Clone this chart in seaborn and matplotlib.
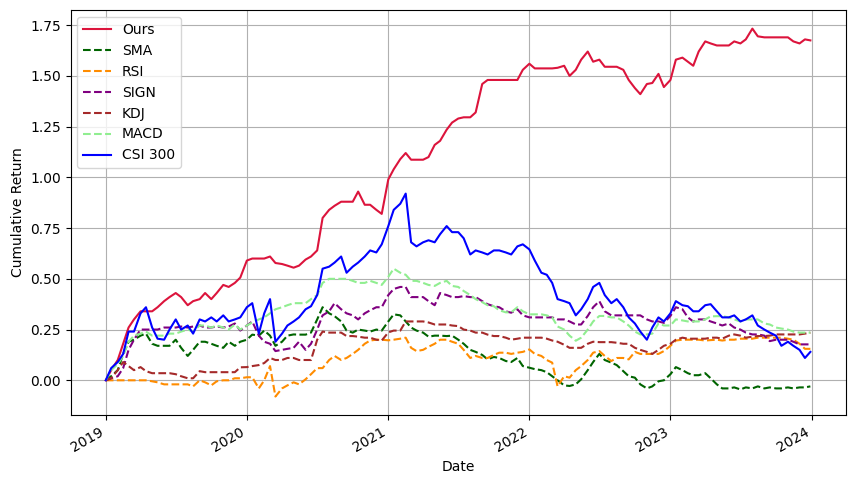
import pandas as pd
import seaborn as sns
import matplotlib.pyplot as plt
import matplotlib.dates as mdates

# semi-monthly sample dates (1st and 15th), plus the last trading day
dates = list(pd.date_range('2019-01-01', periods=120, freq='SMS')) + [pd.Timestamp('2023-12-29')]

ours = [
    0.00, 0.05, 0.10, 0.18, 0.26, 0.30, 0.34, 0.34, 0.34, 0.36, 0.39, 0.41,
    0.43, 0.41, 0.37, 0.39, 0.40, 0.43, 0.40, 0.43, 0.47, 0.46, 0.48, 0.506,
    0.59, 0.60, 0.60, 0.60, 0.61, 0.578, 0.573, 0.565, 0.555, 0.565, 0.595, 0.61,
    0.64, 0.80, 0.84, 0.86, 0.88, 0.88, 0.88, 0.93, 0.865, 0.865, 0.84, 0.82,
    0.99, 1.04, 1.09, 1.12, 1.087, 1.087, 1.087, 1.10, 1.16, 1.18, 1.235, 1.27,
    1.29, 1.296, 1.296, 1.32, 1.46, 1.48, 1.48, 1.48, 1.48, 1.48, 1.48, 1.53,
    1.56, 1.537, 1.537, 1.537, 1.537, 1.54, 1.55, 1.50, 1.53, 1.58, 1.62, 1.57,
    1.58, 1.545, 1.545, 1.545, 1.53, 1.48, 1.44, 1.41, 1.46, 1.465, 1.51, 1.445,
    1.48, 1.58, 1.59, 1.57, 1.55, 1.62, 1.67, 1.66, 1.65, 1.65, 1.65, 1.67,
    1.66, 1.68, 1.733, 1.695, 1.69, 1.69, 1.69, 1.69, 1.69, 1.67, 1.66, 1.68,
    1.675,
]

sma = [
    0.00, 0.02, 0.05, 0.13, 0.19, 0.20, 0.22, 0.23, 0.18, 0.17, 0.17, 0.17,
    0.20, 0.16, 0.12, 0.15, 0.19, 0.19, 0.18, 0.17, 0.16, 0.19, 0.17, 0.19,
    0.20, 0.225, 0.22, 0.245, 0.22, 0.17, 0.19, 0.22, 0.226, 0.225, 0.225, 0.235,
    0.30, 0.36, 0.33, 0.316, 0.29, 0.245, 0.235, 0.25, 0.245, 0.24, 0.25, 0.245,
    0.29, 0.325, 0.32, 0.29, 0.26, 0.245, 0.235, 0.215, 0.22, 0.22, 0.218, 0.22,
    0.20, 0.18, 0.15, 0.14, 0.125, 0.103, 0.115, 0.11, 0.095, 0.09, 0.11, 0.07,
    0.062, 0.055, 0.05, 0.04, 0.02, 0.00, -0.025, -0.028, -0.02, 0.005, 0.05, 0.09,
    0.13, 0.10, 0.087, 0.075, 0.045, 0.02, 0.013, -0.02, -0.04, -0.03, -0.005, 0.00,
    0.03, 0.065, 0.05, 0.035, 0.025, 0.025, 0.035, 0.01, -0.02, -0.04, -0.04, -0.035,
    -0.045, -0.035, -0.04, -0.03, -0.04, -0.035, -0.04, -0.04, -0.035, -0.04, -0.035, -0.035,
    -0.03,
]

rsi = [
    0.00, 0.00, 0.00, 0.00, 0.00, 0.00, 0.00, 0.00, -0.005, -0.01, -0.02, -0.02,
    -0.02, -0.02, -0.02, -0.03, 0.00, -0.01, -0.025, -0.005, 0.00, 0.00, 0.01, 0.01,
    0.015, 0.015, -0.04, 0.00, 0.07, -0.08, -0.04, -0.025, -0.01, -0.02, 0.005, 0.03,
    0.06, 0.06, 0.10, 0.12, 0.10, 0.11, 0.13, 0.15, 0.18, 0.196, 0.20, 0.20,
    0.197, 0.20, 0.205, 0.21, 0.16, 0.144, 0.15, 0.165, 0.18, 0.20, 0.20, 0.19,
    0.18, 0.15, 0.11, 0.12, 0.11, 0.11, 0.125, 0.136, 0.136, 0.13, 0.136, 0.14,
    0.152, 0.13, 0.12, 0.10, 0.087, -0.03, 0.02, 0.013, 0.05, 0.07, 0.10, 0.136,
    0.144, 0.12, 0.095, 0.11, 0.11, 0.103, 0.14, 0.13, 0.13, 0.13, 0.13, 0.144,
    0.17, 0.196, 0.20, 0.20, 0.20, 0.20, 0.196, 0.198, 0.20, 0.196, 0.20, 0.20,
    0.205, 0.205, 0.205, 0.21, 0.21, 0.21, 0.21, 0.21, 0.205, 0.20, 0.18, 0.155,
    0.155,
]

sign = [
    0.00, 0.01, 0.02, 0.06, 0.15, 0.20, 0.25, 0.25, 0.25, 0.25, 0.26, 0.26,
    0.26, 0.265, 0.26, 0.265, 0.27, 0.26, 0.26, 0.265, 0.26, 0.265, 0.28, 0.245,
    0.27, 0.29, 0.22, 0.19, 0.18, 0.144, 0.15, 0.155, 0.16, 0.19, 0.15, 0.18,
    0.25, 0.32, 0.34, 0.38, 0.35, 0.33, 0.32, 0.30, 0.33, 0.345, 0.36, 0.36,
    0.42, 0.45, 0.46, 0.46, 0.41, 0.41, 0.41, 0.39, 0.37, 0.43, 0.42, 0.41,
    0.41, 0.415, 0.41, 0.41, 0.39, 0.375, 0.365, 0.36, 0.34, 0.333, 0.35, 0.32,
    0.31, 0.31, 0.31, 0.31, 0.31, 0.30, 0.30, 0.29, 0.275, 0.275, 0.317, 0.36,
    0.39, 0.34, 0.32, 0.32, 0.32, 0.32, 0.32, 0.32, 0.30, 0.29, 0.29, 0.283,
    0.317, 0.36, 0.35, 0.31, 0.29, 0.30, 0.30, 0.29, 0.28, 0.27, 0.28, 0.26,
    0.25, 0.235, 0.226, 0.226, 0.22, 0.193, 0.20, 0.20, 0.20, 0.19, 0.177, 0.177,
    0.177,
]

kdj = [
    0.00, 0.01, 0.05, 0.09, 0.07, 0.05, 0.065, 0.045, 0.035, 0.035, 0.035, 0.035,
    0.03, 0.02, 0.01, 0.01, 0.045, 0.04, 0.04, 0.04, 0.04, 0.04, 0.04, 0.064,
    0.065, 0.07, 0.075, 0.085, 0.11, 0.10, 0.10, 0.11, 0.11, 0.10, 0.10, 0.10,
    0.20, 0.24, 0.235, 0.235, 0.235, 0.218, 0.218, 0.215, 0.21, 0.21, 0.20, 0.196,
    0.236, 0.245, 0.245, 0.29, 0.29, 0.29, 0.29, 0.285, 0.275, 0.275, 0.275, 0.27,
    0.267, 0.25, 0.245, 0.235, 0.235, 0.225, 0.218, 0.218, 0.21, 0.20, 0.205, 0.21,
    0.21, 0.21, 0.21, 0.205, 0.196, 0.19, 0.175, 0.16, 0.16, 0.16, 0.18, 0.19,
    0.188, 0.188, 0.188, 0.185, 0.18, 0.18, 0.16, 0.15, 0.14, 0.13, 0.15, 0.17,
    0.18, 0.20, 0.21, 0.205, 0.205, 0.205, 0.205, 0.21, 0.21, 0.205, 0.22, 0.226,
    0.22, 0.21, 0.215, 0.218, 0.218, 0.22, 0.226, 0.226, 0.226, 0.226, 0.226, 0.23,
    0.235,
]

macd = [
    0.00, 0.05, 0.08, 0.12, 0.19, 0.22, 0.23, 0.24, 0.22, 0.22, 0.22, 0.23,
    0.23, 0.24, 0.25, 0.24, 0.27, 0.27, 0.26, 0.27, 0.26, 0.25, 0.275, 0.25,
    0.27, 0.285, 0.30, 0.31, 0.33, 0.35, 0.36, 0.37, 0.38, 0.38, 0.38, 0.40,
    0.42, 0.48, 0.50, 0.50, 0.50, 0.50, 0.49, 0.48, 0.48, 0.49, 0.48, 0.47,
    0.51, 0.55, 0.53, 0.52, 0.49, 0.49, 0.48, 0.47, 0.465, 0.48, 0.49, 0.465,
    0.46, 0.44, 0.42, 0.40, 0.385, 0.37, 0.365, 0.345, 0.335, 0.335, 0.36, 0.34,
    0.325, 0.325, 0.325, 0.32, 0.31, 0.265, 0.25, 0.22, 0.195, 0.21, 0.25, 0.29,
    0.317, 0.317, 0.31, 0.31, 0.29, 0.27, 0.24, 0.226, 0.226, 0.23, 0.28, 0.27,
    0.27, 0.30, 0.295, 0.29, 0.29, 0.29, 0.30, 0.315, 0.316, 0.316, 0.31, 0.30,
    0.29, 0.30, 0.30, 0.30, 0.28, 0.275, 0.26, 0.255, 0.25, 0.24, 0.235, 0.235,
    0.235,
]

csi300 = [
    0.00, 0.06, 0.09, 0.13, 0.24, 0.24, 0.33, 0.36, 0.26, 0.205, 0.20, 0.25,
    0.30, 0.25, 0.27, 0.23, 0.30, 0.29, 0.31, 0.29, 0.32, 0.29, 0.30, 0.31,
    0.36, 0.38, 0.23, 0.33, 0.40, 0.19, 0.23, 0.27, 0.29, 0.31, 0.35, 0.365,
    0.42, 0.55, 0.56, 0.58, 0.61, 0.53, 0.56, 0.58, 0.61, 0.64, 0.63, 0.67,
    0.76, 0.84, 0.87, 0.92, 0.68, 0.66, 0.68, 0.69, 0.68, 0.72, 0.76, 0.73,
    0.73, 0.70, 0.62, 0.64, 0.63, 0.62, 0.64, 0.64, 0.63, 0.62, 0.66, 0.67,
    0.645, 0.59, 0.53, 0.52, 0.48, 0.40, 0.39, 0.38, 0.32, 0.35, 0.40, 0.46,
    0.48, 0.42, 0.38, 0.40, 0.36, 0.31, 0.28, 0.24, 0.20, 0.26, 0.31, 0.29,
    0.33, 0.39, 0.37, 0.365, 0.34, 0.34, 0.37, 0.375, 0.34, 0.31, 0.31, 0.32,
    0.29, 0.30, 0.32, 0.27, 0.25, 0.235, 0.22, 0.17, 0.19, 0.17, 0.15, 0.11,
    0.14,
]

series = [
    ('Ours', ours, 'crimson', '-'),
    ('SMA', sma, 'darkgreen', '--'),
    ('RSI', rsi, 'darkorange', '--'),
    ('SIGN', sign, 'purple', '--'),
    ('KDJ', kdj, 'brown', '--'),
    ('MACD', macd, 'lightgreen', '--'),
    ('CSI 300', csi300, 'blue', '-'),
]

fig, ax = plt.subplots(figsize=(8.55, 4.87), dpi=100)
fig.subplots_adjust(left=0.0825, right=0.989, bottom=0.148, top=0.979)

for name, vals, color, ls in series:
    df = pd.DataFrame({'Date': dates, 'Cumulative Return': vals})
    sns.lineplot(data=df, x='Date', y='Cumulative Return', color=color,
                 linestyle=ls, linewidth=1.5, label=name, ax=ax)

ax.xaxis.set_major_locator(mdates.YearLocator())
ax.xaxis.set_major_formatter(mdates.DateFormatter('%Y'))
for lbl in ax.get_xticklabels():
    lbl.set_rotation(30)
    lbl.set_ha('right')

ax.grid(True)
ax.legend(loc='upper left')
ax.set_xlabel('Date')
ax.set_ylabel('Cumulative Return')

plt.savefig('out.png', dpi=100)
